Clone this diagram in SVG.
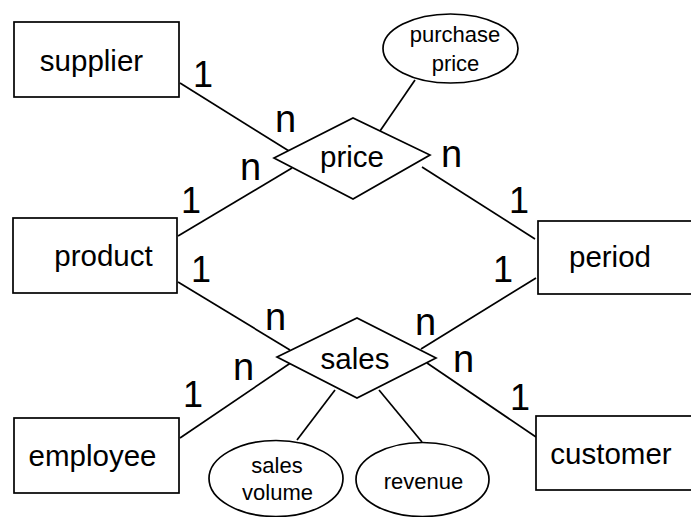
<svg xmlns="http://www.w3.org/2000/svg" width="691" height="517" viewBox="0 0 691 517">
<style>
.shape{fill:#fff;stroke:#000;stroke-width:1.7}
.conn line{stroke:#000;stroke-width:1.7}
text{font-family:"Liberation Sans",Arial,sans-serif;fill:#000}
.lbl{font-size:29.5px;text-anchor:middle}
.small{font-size:22px;text-anchor:middle}
.card{font-size:36px}
.card .n{font-size:38px}
</style>
<rect width="691" height="517" fill="#fff"/>
<g id="connectors" class="conn">
<line x1="180" y1="83" x2="289" y2="151"/>
<line x1="178" y1="236" x2="292" y2="168"/>
<line x1="422" y1="167" x2="535" y2="239"/>
<line x1="380" y1="131" x2="415" y2="80"/>
<line x1="178" y1="282" x2="290" y2="350"/>
<line x1="180" y1="438" x2="292" y2="362"/>
<line x1="421" y1="349" x2="536" y2="278"/>
<line x1="427" y1="363" x2="536" y2="437"/>
<line x1="335" y1="390" x2="297" y2="440"/>
<line x1="379" y1="390" x2="422" y2="442"/>
</g>
<g id="supplier"><rect class="shape" x="14" y="22" width="165" height="75"/><text class="lbl" x="91.5" y="71">supplier</text></g>
<g id="product"><rect class="shape" x="13" y="218" width="164" height="75"/><text class="lbl" x="103.5" y="266">product</text></g>
<g id="employee"><rect class="shape" x="14" y="418" width="165" height="75"/><text class="lbl" x="92.5" y="466">employee</text></g>
<g id="period"><rect class="shape" x="538" y="221" width="170" height="73"/><text class="lbl" x="610" y="267">period</text></g>
<g id="customer"><rect class="shape" x="536" y="416" width="170" height="74"/><text class="lbl" x="611" y="464">customer</text></g>
<g id="price"><polygon class="shape" points="274,158 353,118 430,155 353,199"/><text class="lbl" x="352" y="167">price</text></g>
<g id="sales"><polygon class="shape" points="277,357 357,318 436,358 357,398"/><text class="lbl" x="355" y="369">sales</text></g>
<g id="purchase-price"><ellipse class="shape" cx="450.5" cy="48.5" rx="67.5" ry="34.5"/><text class="small" x="455" y="42">purchase</text><text class="small" x="455.5" y="71">price</text></g>
<g id="sales-volume"><ellipse class="shape" cx="276" cy="478.5" rx="67" ry="38"/><text class="small" x="277" y="473">sales</text><text class="small" x="277.5" y="500">volume</text></g>
<g id="revenue"><ellipse class="shape" cx="422.5" cy="479.5" rx="66.5" ry="37"/><text class="small" x="423.5" y="489">revenue</text></g>
<g id="cardinalities" class="card">
<text x="193" y="87">1</text>
<text class="n" x="275" y="132">n</text>
<text class="n" x="240" y="180">n</text>
<text x="181" y="213">1</text>
<text class="n" x="441" y="167">n</text>
<text x="509" y="213">1</text>
<text x="191" y="282">1</text>
<text class="n" x="265" y="330">n</text>
<text class="n" x="233" y="380">n</text>
<text x="183" y="407">1</text>
<text x="493" y="282">1</text>
<text class="n" x="415" y="335">n</text>
<text class="n" x="453" y="372">n</text>
<text x="510" y="410">1</text>
</g>
</svg>
